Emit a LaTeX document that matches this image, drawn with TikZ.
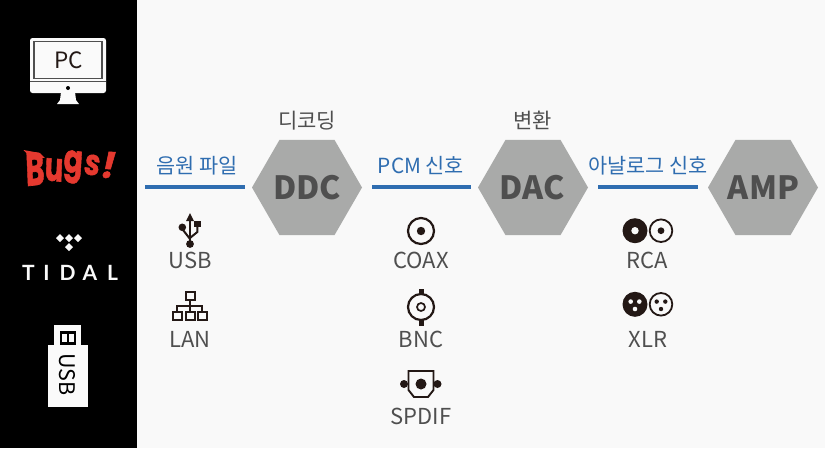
\documentclass[tikz,border=0pt]{standalone}
\usepackage{fontspec}
\usetikzlibrary{shapes.geometric,calc}
\setmainfont{Noto Sans CJK KR}
\newfontfamily\bugsfont[FakeBold=1.5]{Poppins}
\newfontfamily\tidalfont{Lato}
\definecolor{bgc}{HTML}{F9F9F9}
\definecolor{bluec}{HTML}{2F6DB0}
\definecolor{hexc}{HTML}{A9AAA9}
\definecolor{txtc}{HTML}{4F4F4F}
\definecolor{icon}{HTML}{231815}
\definecolor{bugsc}{HTML}{E5392F}
\definecolor{wht}{HTML}{FAFAFA}
\newcommand{\fsz}[1]{\fontsize{#1}{#1}\selectfont}
\tikzset{
  hexnode/.style={regular polygon,regular polygon sides=6,minimum size=110pt,inner sep=0pt,fill=hexc},
  hextext/.style={text=txtc,font=\fsz{32}\bfseries,inner sep=0pt},
  siglabel/.style={text=bluec,font=\fsz{20.8},inner sep=0pt},
  steplabel/.style={text=txtc,font=\fsz{21},inner sep=0pt},
  portlabel/.style={text=txtc,font=\fsz{22},inner sep=0pt},
  sigline/.style={draw=bluec,line width=4pt},
  iconline/.style={draw=icon,line width=2pt},
  bugl/.style={text=bugsc,inner sep=0pt}
}
\begin{document}
\begin{tikzpicture}[x=1pt,y=-1pt]
\useasboundingbox (0,0) rectangle (825,448);
\fill[bgc] (0,0) rectangle (825,448);
\fill[black] (0,0) rectangle (137,448);
% PC
\fill[wht,rounded corners=2.5pt] (30,38) rectangle (106,93);
\fill[wht] (61,92) -- (75,92) -- (76,100) -- (79,104) -- (57,104) -- (60,100) -- cycle;
\draw[draw=txtc,line width=1.3pt] (34,41.5) rectangle (102,78.5);
\draw[draw=txtc,line width=1pt] (30,81.5) -- (106,81.5);
\fill[black] (68,88) circle (2pt);
\node[inner sep=0pt,text=icon,font=\fsz{22.5}] (pc) at (68.5,60) {PC};
% Bugs
\node[bugl,font=\bugsfont\bfseries\fsz{46},xscale=.62,rotate=4] (b1) at (35,169) {B};
\fill[bugsc] (23.5,150) -- (40,153) -- (45,158) -- (30,157) -- cycle;
\node[bugl,font=\bugsfont\bfseries\fsz{40},xscale=.68,rotate=-3] (b2) at (54,170) {u};
\node[bugl,font=\bugsfont\bfseries\fsz{39},xscale=.72,rotate=-5] (b3) at (73,167) {g};
\node[bugl,font=\bugsfont\bfseries\itshape\fsz{36},xscale=.78,rotate=-6] (b4) at (92.5,165) {s};
\node[bugl,font=\bugsfont\bfseries\itshape\fsz{36},rotate=-4] (b5) at (108.5,165) {!};
% TIDAL
\foreach \dx/\dy in {60/238,69/238,78/238,69/247}{
  \fill[wht] (\dx-4,\dy) -- (\dx,\dy-4) -- (\dx+4,\dy) -- (\dx,\dy+4) -- cycle;
}
\foreach \ltr/\lx in {T/28.5,I/46.5,D/67.5,A/90,L/112.5}{
  \node[inner sep=0pt,text=wht,font=\tidalfont\bfseries\fsz{21}] (tidal\ltr) at (\lx,272.5) {\ltr};
}
% USB stick
\fill[wht] (54,325) rectangle (81,345);
\fill[wht] (48,345) rectangle (88,407);
\fill[black] (60,331) rectangle (76,345);
\fill[wht] (62,333.5) rectangle (66.7,342);
\fill[wht] (69.3,333.5) rectangle (74,342);
\node[inner sep=0pt,text=black,rotate=-90,font=\fsz{21.5}] (usbstick) at (67.5,374.5) {USB};
% Hexagons
\node[hexnode] (ddc) at (307,187.5) {};
\node[hexnode] (dac) at (533,187.5) {};
\node[hexnode] (amp) at (763,187.5) {};
\node[hextext] (ddct) at (307,187.5) {DDC};
\node[hextext] (dact) at (532.5,187.5) {DAC};
\node[hextext] (ampt) at (763.5,187.5) {AMP};
% Lines
\coordinate (src) at (145,187);
\draw[sigline] (src) -- ($(ddc.west)+(-7,-.5)$);
\draw[sigline] ($(ddc.east)+(10,-.5)$) -- ($(dac.west)+(-7,-.5)$);
\draw[sigline] ($(dac.east)+(10,-.5)$) -- ($(amp.west)+(-10,-.5)$);
% Labels
\node[siglabel] (l1) at (197,165.5) {음원 파일};
\node[siglabel] (l2) at (421,165.5) {PCM 신호};
\node[siglabel] (l3) at (648,165.5) {아날로그 신호};
\node[steplabel] (s1) at (307,120.5) {디코딩};
\node[steplabel] (s2) at (532.5,120.5) {변환};
\node[portlabel] (pusb) at (190,260) {USB};
\node[portlabel] (plan) at (190,339) {LAN};
\node[portlabel] (pcoax) at (421,260) {COAX};
\node[portlabel] (pbnc) at (421,339) {BNC};
\node[portlabel] (pspdif) at (421,416) {SPDIF};
\node[portlabel] (prca) at (647.5,260) {RCA};
\node[portlabel] (pxlr) at (648,339) {XLR};
% USB icon
\draw[iconline] (190,218) -- (190,242);
\fill[icon] (186,221) -- (190,213) -- (194,221) -- cycle;
\fill[icon] (190,244) circle (3.9pt);
\fill[icon] (182.3,227.3) circle (3.8pt);
\draw[iconline] (182.3,229) -- (190,239);
\fill[icon] (194,221) rectangle (200.7,227.3);
\draw[iconline] (197.3,226) -- (197.3,232) -- (190,238);
% LAN icon
\begin{scope}[iconline]
\draw (185.5,291.5) rectangle (194.5,300);
\draw (190,300) -- (190,311);
\draw (177,311) -- (177,306) -- (202,306) -- (202,311);
\draw (172.8,311.5) rectangle (181.7,320);
\draw (185.5,311.5) rectangle (194.5,320);
\draw (198,311.5) rectangle (207,320);
\end{scope}
% COAX
\draw[draw=icon,line width=2.2pt] (421,231) circle (13pt);
\fill[icon] (421,231) circle (4.2pt);
% BNC
\draw[draw=icon,line width=2.2pt] (421,307) circle (13pt);
\draw[draw=icon,line width=1.7pt] (421,307) circle (4pt);
\fill[icon] (418.5,289) rectangle (423.5,295);
\fill[icon] (418.5,319) rectangle (423.5,326);
% SPDIF
\fill[icon] (404,384) circle (4pt);
\fill[icon] (437.5,384) circle (4pt);
\draw[draw=icon,fill=bgc,line width=1.9pt] (408.5,371) -- (433.5,371) -- (433.5,390) -- (428,397) -- (414,397) -- (408.5,390) -- cycle;
\fill[icon] (421,384) circle (5.5pt);
% RCA
\fill[icon] (635,230.7) circle (12.5pt);
\fill[bgc] (635,230.7) circle (3.7pt);
\draw[draw=icon,line width=1.8pt] (661,230.7) circle (11.3pt);
\fill[icon] (661,230.7) circle (3.4pt);
% XLR
\fill[icon] (635,304.3) circle (12.5pt);
\foreach \ox/\oy in {-4.3/-2.7,4.3/-2.7,0/4.7}{
  \fill[bgc] (635+\ox,304.3+\oy) circle (2.3pt);
  \fill[icon] (661+\ox,304.3+\oy) circle (2.2pt);
}
\draw[draw=icon,line width=1.8pt] (661,304.3) circle (11.3pt);
\end{tikzpicture}
\end{document}
